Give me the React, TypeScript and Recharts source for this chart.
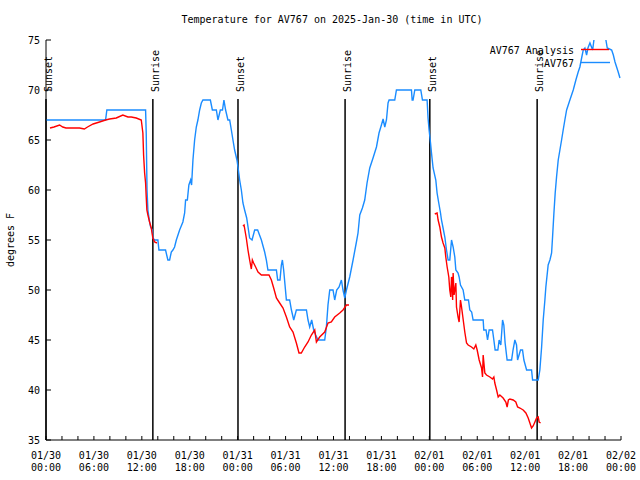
import React from 'react';
import { LineChart, Line, XAxis, YAxis, ReferenceLine } from 'recharts';

// Hours since 2025-01-30 00:00 UTC, temperature in °F
const av767: [number, number][] = [
  [0, 67], [7.46, 67], [7.62, 68], [12.47, 68], [12.55, 65.7], [12.65, 60], [12.76, 58], [12.97, 56.8],
  [13.1, 56.3], [13.31, 56], [13.38, 55.2], [13.6, 55], [14.01, 55], [14.14, 54], [14.97, 54], [15.26, 53],
  [15.48, 53], [15.69, 53.8], [15.89, 54], [16.1, 54.3], [16.32, 55], [16.73, 56], [17.14, 56.8], [17.36, 57.7],
  [17.48, 59], [17.7, 59], [17.89, 60.5], [18.11, 61], [18.23, 60.5], [18.4, 63], [18.61, 65], [18.82, 66.3],
  [19.02, 67], [19.24, 68], [19.45, 68.7], [19.65, 69], [20.58, 69], [20.83, 68], [21.33, 68], [21.53, 67],
  [21.83, 68], [22.1, 68], [22.28, 69], [22.49, 68], [22.78, 67], [23.0, 67], [23.21, 66], [23.41, 65],
  [23.62, 64], [23.91, 63], [24.09, 62], [24.25, 61], [24.46, 60], [24.66, 58.7], [24.87, 58], [25.13, 57.2],
  [25.5, 55.2], [25.8, 55], [26.13, 56], [26.5, 56], [26.97, 55], [27.38, 53.8], [27.59, 53], [27.79, 52],
  [28.85, 52], [29.01, 51], [29.3, 51], [29.47, 52.5], [29.6, 53], [29.76, 52], [30.1, 49], [30.51, 49],
  [30.73, 48], [31.02, 47], [31.35, 48], [32.61, 48], [32.81, 47], [33.02, 46.3], [33.27, 47], [33.52, 46],
  [33.77, 45.5], [34.06, 45], [34.9, 45], [35.11, 46.3], [35.31, 48.5], [35.53, 50], [35.94, 50], [36.15, 49],
  [36.4, 50], [36.7, 50.3], [36.99, 51], [37.19, 50], [37.41, 49.2], [37.62, 50], [38.03, 51.3], [38.45, 53],
  [38.87, 54.8], [39.07, 55.7], [39.29, 57.5], [39.62, 58.2], [39.91, 59], [40.2, 60.7], [40.54, 62.2],
  [40.95, 63.2], [41.38, 64.3], [41.7, 65.7], [42.0, 66.5], [42.21, 67.1], [42.42, 66.3], [42.63, 67],
  [42.83, 68.7], [42.96, 69], [43.67, 69], [43.88, 70], [45.76, 70], [45.85, 69], [45.96, 69], [46.18, 70],
  [46.93, 70], [47.14, 69], [47.72, 69], [47.84, 67.2], [47.97, 66], [48.15, 64.7], [48.27, 63.7], [48.47, 62.2],
  [48.81, 61], [48.97, 59.7], [49.18, 58.7], [49.4, 57.7], [49.52, 57], [49.72, 56.2], [49.94, 55.3], [50.15, 54],
  [50.35, 53], [50.56, 53], [50.78, 55], [50.98, 54.3], [51.19, 53.3], [51.32, 52], [51.6, 51.7], [51.73, 51.3],
  [51.9, 50.5], [52.23, 50], [52.44, 49], [52.9, 49], [53.07, 48], [53.3, 47.8], [53.48, 47], [54.74, 47],
  [54.82, 46], [55.1, 46], [55.29, 45], [55.49, 46], [55.91, 46], [56.08, 45], [56.24, 44], [56.58, 44],
  [56.74, 45], [56.95, 44.5], [57.17, 47], [57.33, 46.5], [57.49, 44.7], [57.74, 43], [58.3, 43], [58.48, 44],
  [58.71, 45], [58.92, 44.5], [59.05, 43], [59.42, 44], [59.67, 44], [59.84, 43], [60.18, 42], [60.8, 42],
  [60.93, 41], [61.63, 41], [61.84, 42], [62.06, 44.3], [62.26, 47], [62.47, 49], [62.59, 50.3], [62.88, 52.5],
  [63.1, 53], [63.31, 53.7], [63.43, 55.3], [63.6, 57.7], [63.76, 59.7], [63.93, 61.3], [64.14, 63], [64.35, 64],
  [64.56, 65], [64.76, 66], [64.97, 67], [65.19, 68], [65.6, 69], [66.02, 70], [66.35, 71], [66.64, 71.8],
  [66.85, 72.3], [67.07, 73.2], [67.27, 74], [67.48, 74.2], [67.69, 73.5], [67.86, 74.2], [68.11, 74.7],
  [68.45, 74], [68.61, 75], [68.95, 76], [69.99, 76], [70.11, 75], [70.28, 74.2], [70.83, 74], [71.04, 73.5],
  [71.25, 72.8], [71.45, 72.3], [71.65, 71.8], [71.87, 71.2],
];

const analysisNight1: [number, number][] = [
  [0.5, 66.2], [1.0, 66.3], [1.7, 66.5], [2.1, 66.3], [2.5, 66.2], [4.2, 66.2], [4.8, 66.1], [5.2, 66.3],
  [5.9, 66.6], [6.7, 66.8], [7.46, 67], [7.96, 67.1], [8.8, 67.2], [9.62, 67.5], [10.26, 67.3], [10.68, 67.3],
  [11.3, 67.2], [11.93, 67], [12.13, 65.7], [12.22, 63.5], [12.35, 61.7], [12.47, 60.7], [12.55, 59.3],
  [12.63, 58], [12.76, 57.5], [12.97, 56.8], [13.18, 56.2], [13.38, 55.2], [13.6, 54.8], [13.89, 54.7],
];

const analysisNight2: [number, number][] = [
  [24.66, 56.4], [24.8, 56.5], [25.08, 55.2], [25.29, 54], [25.5, 53], [25.71, 52.1], [25.84, 53], [26.0, 52.7],
  [26.25, 52.3], [26.55, 51.8], [26.97, 51.5], [27.92, 51.5], [28.22, 51], [28.51, 50.2], [28.85, 49.2],
  [29.26, 48.7], [29.68, 48.2], [30.1, 47.3], [30.51, 46.3], [30.93, 45.8], [31.35, 44.7], [31.68, 43.7],
  [31.97, 43.7], [32.39, 44.3], [32.81, 44.8], [33.23, 45.5], [33.65, 46], [33.86, 44.8], [34.27, 45.3],
  [34.9, 45.8], [35.31, 46.7], [35.73, 46.8], [36.15, 47.3], [36.78, 47.7], [37.19, 48], [37.62, 48.5],
  [37.94, 48.5],
];

const analysisNight3: [number, number][] = [
  [48.68, 57.6], [48.97, 57.7], [49.1, 57], [49.31, 56.3], [49.52, 55.3], [49.72, 54.7], [49.94, 54.2],
  [50.06, 53.3], [50.23, 52.3], [50.44, 51.3], [50.56, 50], [50.69, 49.3], [50.78, 51.3], [50.85, 51],
  [50.92, 49], [50.98, 51.7], [51.1, 49.5], [51.32, 50.7], [51.4, 48.3], [51.6, 47.3], [51.73, 46.8],
  [51.9, 49], [52.0, 48.5], [52.44, 45.8], [52.66, 44.7], [52.86, 44.5], [53.28, 44.3], [53.57, 44.1],
  [53.82, 44.5], [53.99, 44], [54.24, 43], [54.54, 42.2], [54.66, 41.3], [54.74, 43.5], [54.95, 41.7],
  [55.16, 41.5], [55.58, 41.3], [55.91, 41.1], [56.08, 41.3], [56.2, 40.7], [56.42, 40], [56.62, 39.3],
  [56.83, 39.5], [57.24, 39.2], [57.58, 38.8], [57.74, 38.3], [57.9, 39], [58.08, 39.1], [58.5, 39],
  [58.83, 38.8], [59.05, 38.3], [59.34, 38.2], [59.75, 38], [60.09, 37.7], [60.38, 37.2], [60.59, 36.7],
  [60.8, 36.2], [61.0, 36.4], [61.22, 36.8], [61.43, 37.2], [61.63, 37.3], [61.75, 36.8], [61.93, 36.7],
];

const sunEvents: { h: number; label: string }[] = [
  { h: 0, label: 'Sunset' },
  { h: 13.38, label: 'Sunrise' },
  { h: 24.04, label: 'Sunset' },
  { h: 37.45, label: 'Sunrise' },
  { h: 48.06, label: 'Sunset' },
  { h: 61.5, label: 'Sunrise' },
];
const sunLineTop = 69.1;

const xTicks: number[] = Array.from({ length: 37 }, (_, i) => i * 2);
const xTickLabels: Record<number, [string, string]> = {
  0: ['01/30', '00:00'], 6: ['01/30', '06:00'], 12: ['01/30', '12:00'], 18: ['01/30', '18:00'],
  24: ['01/31', '00:00'], 30: ['01/31', '06:00'], 36: ['01/31', '12:00'], 42: ['01/31', '18:00'],
  48: ['02/01', '00:00'], 54: ['02/01', '06:00'], 60: ['02/01', '12:00'], 66: ['02/01', '18:00'],
  72: ['02/02', '00:00'],
};
const yTicks: number[] = [35, 40, 45, 50, 55, 60, 65, 70, 75];

const titleText = 'Temperature for AV767 on 2025-Jan-30 (time in UTC)';
const yLabelText = 'degrees F';
const seriesNames = { analysis: 'AV767 Analysis', obs: 'AV767' };

const FONT = '"DejaVu Sans Mono", monospace';
const BLUE = '#1a8cff';
const RED = '#ff0000';

const toPts = (arr: [number, number][]) => arr.map(([h, t]) => ({ h, t }));

const BottomTick = (props: any) => {
  const { x, y, payload } = props;
  const lab = xTickLabels[payload.value];
  return (
    <g>
      <line x1={x} y1={y} x2={x} y2={y - 4} stroke="#000" strokeWidth={1} />
      {lab && (
        <text x={x} y={y} textAnchor="middle" fontFamily={FONT} fontSize={10} fill="#000">
          <tspan x={x} dy={19}>{lab[0]}</tspan>
          <tspan x={x} dy={12}>{lab[1]}</tspan>
        </text>
      )}
    </g>
  );
};

const TopTick = (props: any) => {
  const { x, y } = props;
  return <line x1={x} y1={y} x2={x} y2={y + 4} stroke="#000" strokeWidth={1} />;
};

const LeftTick = (props: any) => {
  const { x, y, payload } = props;
  return (
    <g>
      <line x1={x} y1={y} x2={x + 5} y2={y} stroke="#000" strokeWidth={1} />
      <text x={x - 6} y={y + 4} textAnchor="end" fontFamily={FONT} fontSize={10} fill="#000">
        {payload.value}
      </text>
    </g>
  );
};

const RightTick = (props: any) => {
  const { x, y } = props;
  return <line x1={x} y1={y} x2={x - 5} y2={y} stroke="#000" strokeWidth={1} />;
};

const SunLabel = (text: string) => (props: any) => {
  const vb = props.viewBox || {};
  const top = Math.min(vb.y, vb.y + (vb.height || 0));
  const lx = vb.x + 6;
  const ly = top - 7;
  return (
    <text
      x={lx}
      y={ly}
      transform={`rotate(-90 ${lx} ${ly})`}
      textAnchor="start"
      fontFamily={FONT}
      fontSize={10}
      fill="#000"
    >
      {text}
    </text>
  );
};

export default function App() {
  return (
    <div style={{ position: 'absolute', left: 0, top: 0, width: 640, height: 480, background: '#fff' }}>
      <LineChart width={640} height={480} margin={{ top: 40, right: 19, bottom: 0, left: 0 }}>
        <XAxis
          xAxisId="b"
          dataKey="h"
          type="number"
          domain={[0, 72]}
          ticks={xTicks}
          interval={0}
          height={40}
          tickSize={0}
          tickMargin={0}
          tickLine={false}
          tick={<BottomTick />}
          axisLine={{ stroke: '#000' }}
          allowDataOverflow
        />
        <XAxis
          xAxisId="t"
          orientation="top"
          dataKey="h"
          type="number"
          domain={[0, 72]}
          ticks={xTicks}
          interval={0}
          height={0}
          tickSize={0}
          tickMargin={0}
          tickLine={false}
          tick={<TopTick />}
          axisLine={{ stroke: '#000' }}
          allowDataOverflow
        />
        <YAxis
          yAxisId="l"
          type="number"
          domain={[35, 75]}
          ticks={yTicks}
          interval={0}
          width={46}
          tickSize={0}
          tickMargin={0}
          tickLine={false}
          tick={<LeftTick />}
          axisLine={{ stroke: '#000' }}
          allowDataOverflow
        />
        <YAxis
          yAxisId="r"
          orientation="right"
          type="number"
          domain={[35, 75]}
          ticks={yTicks}
          interval={0}
          width={0}
          tickSize={0}
          tickMargin={0}
          tickLine={false}
          tick={<RightTick />}
          axisLine={{ stroke: '#000' }}
          allowDataOverflow
        />
        {sunEvents.map((s, i) => (
          <ReferenceLine
            key={`sun-${i}`}
            xAxisId="b"
            yAxisId="l"
            segment={[{ x: s.h, y: 35 }, { x: s.h, y: sunLineTop }]}
            stroke="#000"
            strokeWidth={1.5}
            ifOverflow="visible"
            label={SunLabel(s.label)}
          />
        ))}
        <Line
          xAxisId="b"
          yAxisId="l"
          data={toPts(av767)}
          dataKey="t"
          type="linear"
          stroke={BLUE}
          strokeWidth={1.4}
          dot={false}
          isAnimationActive={false}
        />
        <Line
          xAxisId="b"
          yAxisId="l"
          data={toPts(analysisNight1)}
          dataKey="t"
          type="linear"
          stroke={RED}
          strokeWidth={1.4}
          dot={false}
          isAnimationActive={false}
        />
        <Line
          xAxisId="b"
          yAxisId="l"
          data={toPts(analysisNight2)}
          dataKey="t"
          type="linear"
          stroke={RED}
          strokeWidth={1.4}
          dot={false}
          isAnimationActive={false}
        />
        <Line
          xAxisId="b"
          yAxisId="l"
          data={toPts(analysisNight3)}
          dataKey="t"
          type="linear"
          stroke={RED}
          strokeWidth={1.4}
          dot={false}
          isAnimationActive={false}
        />
      </LineChart>
      <svg
        width={640}
        height={480}
        style={{ position: 'absolute', left: 0, top: 0, pointerEvents: 'none' }}
      >
        <text x={332} y={23} textAnchor="middle" fontFamily={FONT} fontSize={10} fill="#000">
          {titleText}
        </text>
        <text
          x={14}
          y={240}
          transform="rotate(-90 14 240)"
          textAnchor="middle"
          fontFamily={FONT}
          fontSize={10}
          fill="#000"
        >
          {yLabelText}
        </text>
        <text x={574} y={54} textAnchor="end" fontFamily={FONT} fontSize={10} fill="#000">
          {seriesNames.analysis}
        </text>
        <line x1={581} y1={49.5} x2={609} y2={49.5} stroke={RED} strokeWidth={1.4} />
        <text x={574} y={67} textAnchor="end" fontFamily={FONT} fontSize={10} fill="#000">
          {seriesNames.obs}
        </text>
        <line x1={581} y1={62.5} x2={610} y2={62.5} stroke={BLUE} strokeWidth={1.4} />
      </svg>
    </div>
  );
}
